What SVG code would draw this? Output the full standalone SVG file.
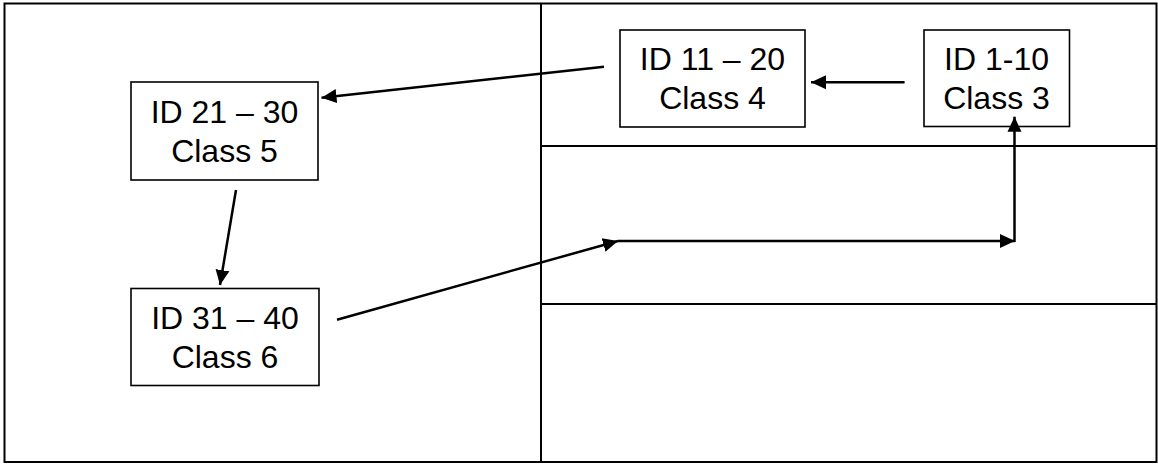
<svg xmlns="http://www.w3.org/2000/svg" width="1158" height="464" viewBox="0 0 1158 464">
<style>
.frame{fill:none;stroke:#000;stroke-width:2}
.box{fill:#fff;stroke:#000;stroke-width:1.6}
.lbl{font-family:"Liberation Sans",Arial,sans-serif;font-size:32px;fill:#000;text-anchor:middle}
.con{fill:none;stroke:#000;stroke-width:2.5}
</style>
<defs>
<marker id="ah" markerUnits="userSpaceOnUse" markerWidth="16" markerHeight="16" viewBox="0 0 16 16" refX="15" refY="8" orient="auto">
<path d="M0,1 L15,8 L0,15 Z" fill="#000"/>
</marker>
</defs>
<rect width="1158" height="464" fill="#fff"/>
<g id="frame">
<rect class="frame" x="4.5" y="3.5" width="1152" height="458.5"/>
<line class="frame" x1="541" y1="3.5" x2="541" y2="462"/>
<line class="frame" x1="541" y1="146" x2="1156.5" y2="146"/>
<line class="frame" x1="541" y1="304" x2="1156.5" y2="304"/>
</g>
<g id="node-21-30">
<rect class="box" x="131" y="82" width="187" height="98"/>
<text class="lbl" x="224.5" y="123">ID 21 – 30</text>
<text class="lbl" x="224.5" y="162">Class 5</text>
</g>
<g id="node-11-20">
<rect class="box" x="620" y="30" width="185" height="97"/>
<text class="lbl" x="712.5" y="70">ID 11 – 20</text>
<text class="lbl" x="712.5" y="108.7">Class 4</text>
</g>
<g id="node-1-10">
<rect class="box" x="924" y="30" width="145.5" height="96.5"/>
<text class="lbl" x="996.5" y="70">ID 1-10</text>
<text class="lbl" x="996.5" y="108.7">Class 3</text>
</g>
<g id="node-31-40">
<rect class="box" x="131" y="288.5" width="188" height="97"/>
<text class="lbl" x="225" y="329">ID 31 – 40</text>
<text class="lbl" x="225" y="367.5">Class 6</text>
</g>
<g id="connectors">
<line class="con" x1="604" y1="66.7" x2="321.5" y2="97.7" marker-end="url(#ah)"/>
<line class="con" x1="904.6" y1="82.3" x2="811" y2="82.3" marker-end="url(#ah)"/>
<line class="con" x1="236" y1="190" x2="220" y2="285" marker-end="url(#ah)"/>
<line class="con" x1="337" y1="319.7" x2="618" y2="241" marker-end="url(#ah)"/>
<line class="con" x1="618" y1="241" x2="1015" y2="241" marker-end="url(#ah)"/>
<line class="con" x1="1014.5" y1="242" x2="1014.5" y2="116.7" marker-end="url(#ah)"/>
</g>
</svg>
